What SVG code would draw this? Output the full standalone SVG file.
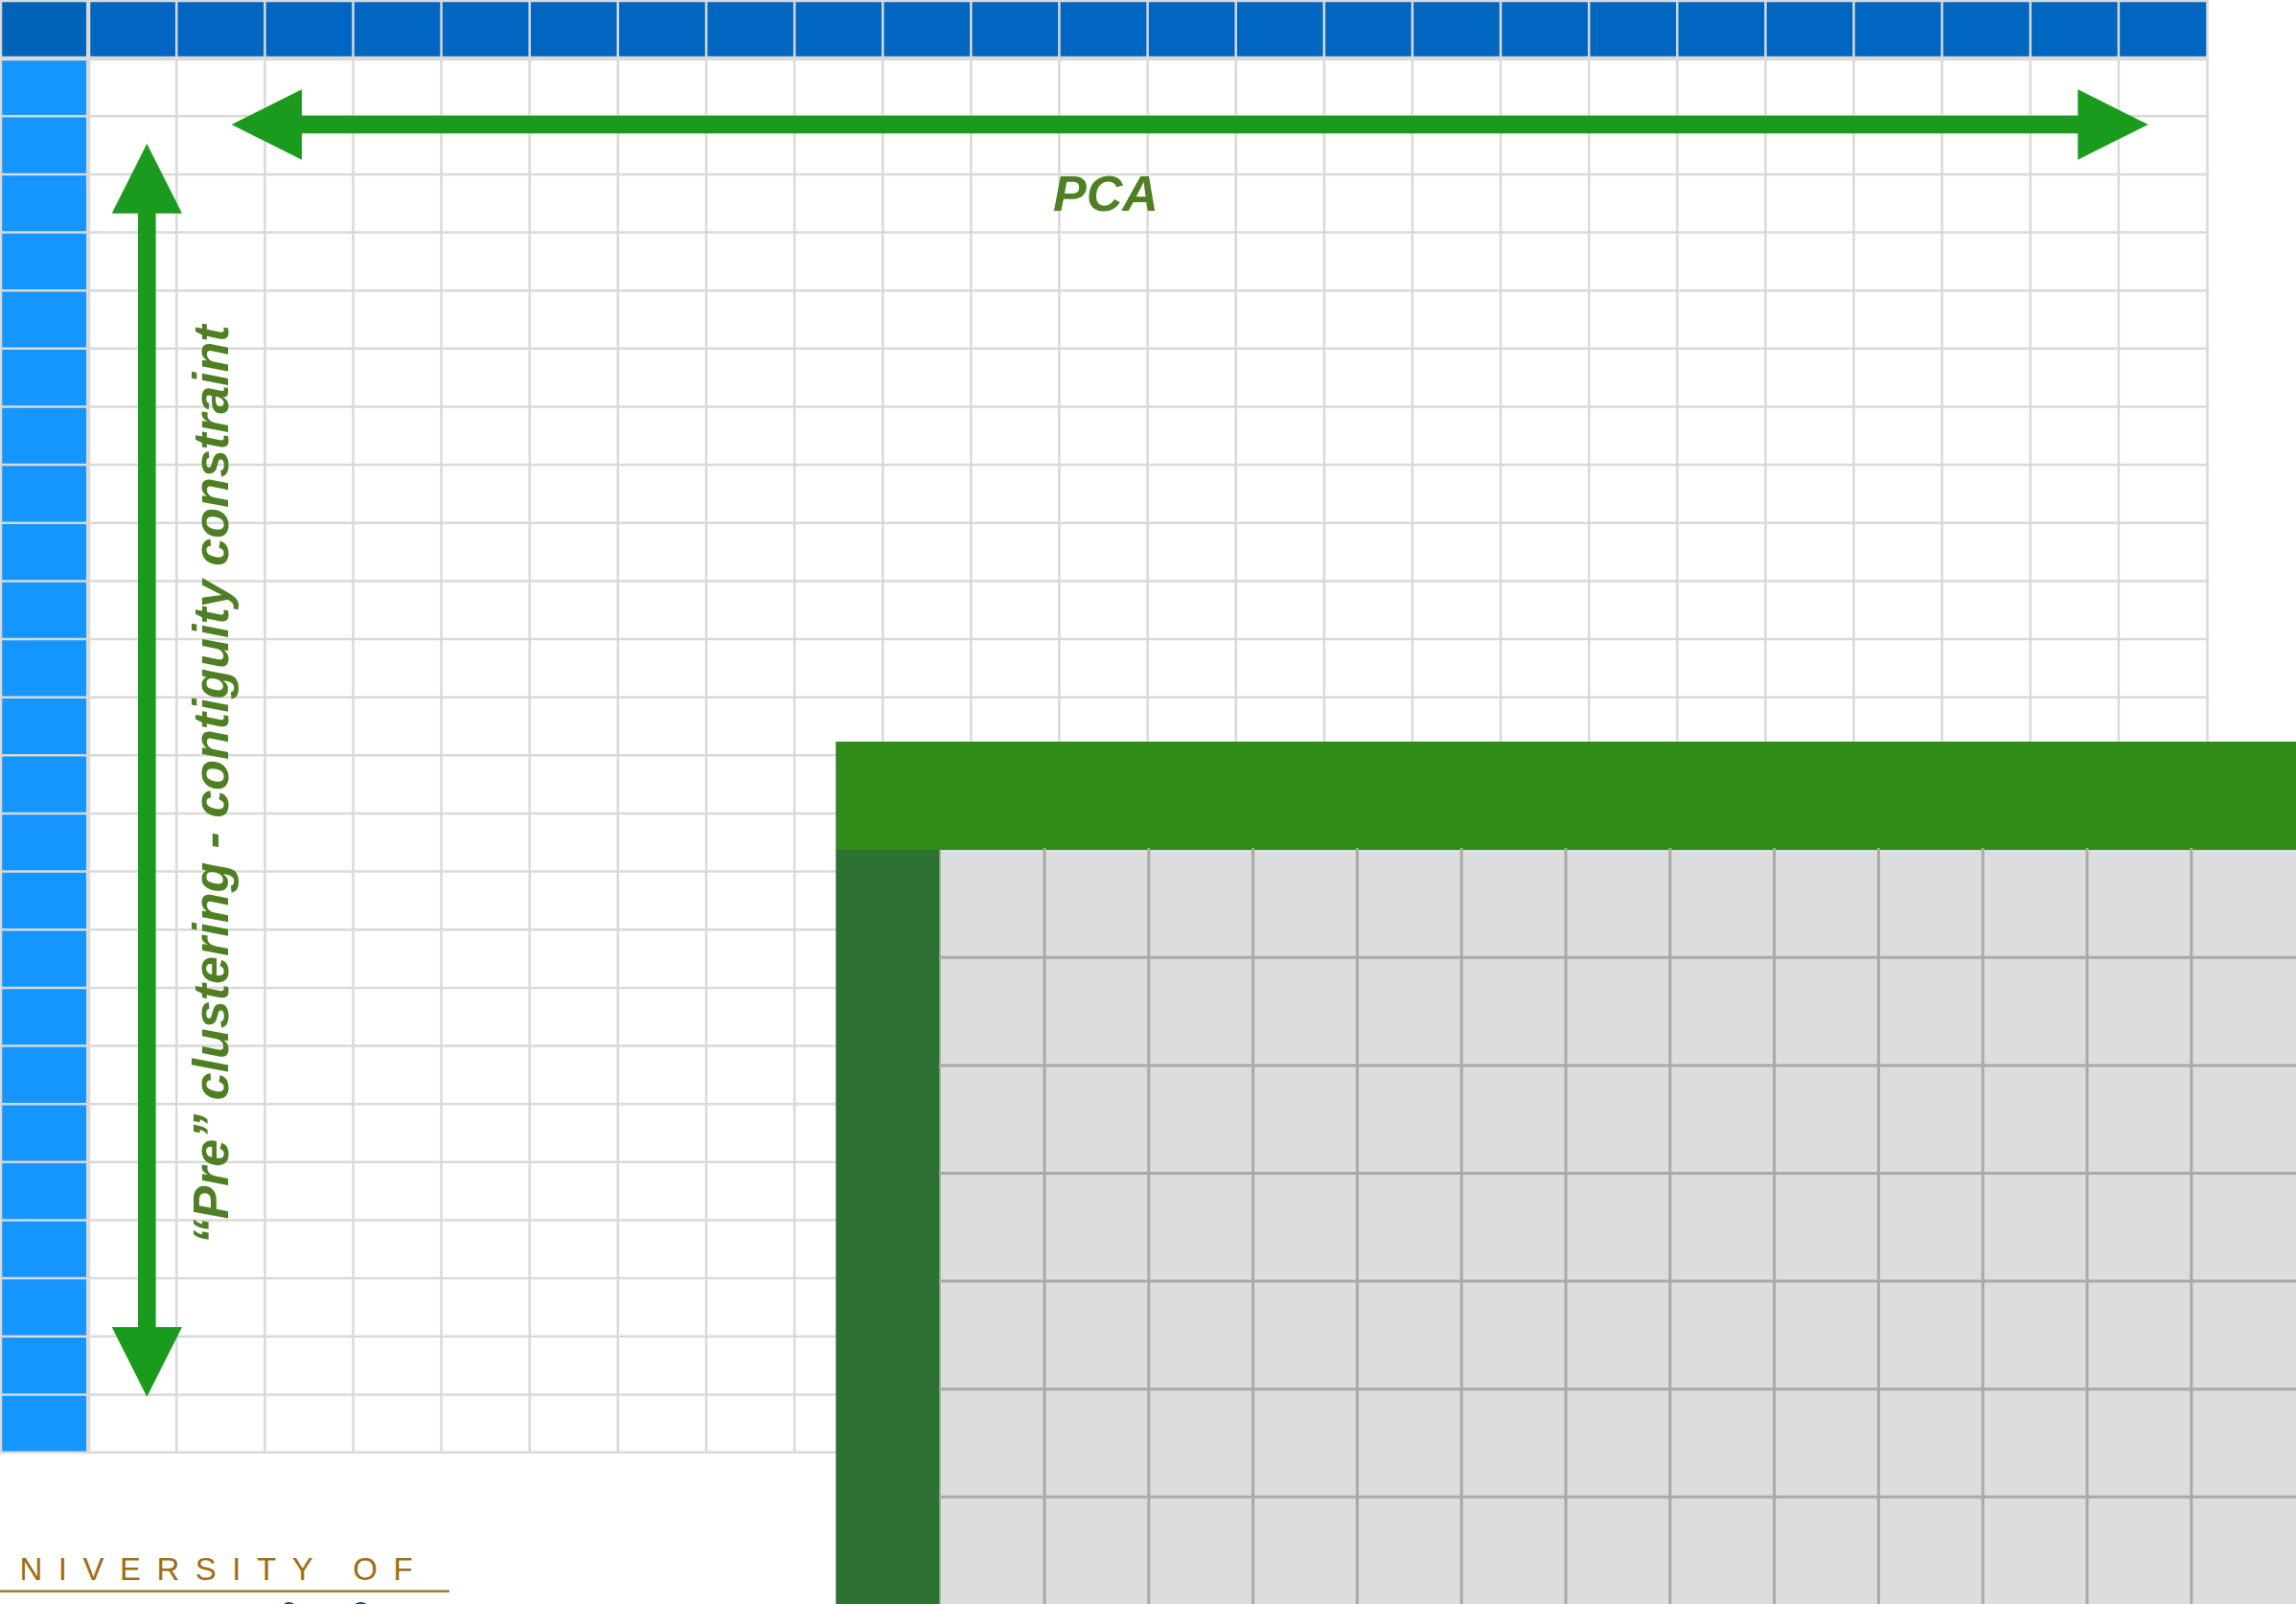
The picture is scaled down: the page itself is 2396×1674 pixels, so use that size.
<svg xmlns="http://www.w3.org/2000/svg" width="2396" height="1674" viewBox="0 0 2396 1674">
<style>
.gl{stroke:#d9d9d9;stroke-width:2.5;fill:none}
.glb{stroke:#d9d9d9;stroke-width:4.3;fill:none}
.pl{stroke:#a9a9aa;stroke-width:3;fill:none}
.arrow{fill:#1b9b1e}
.lbl{font-family:"Liberation Sans",Arial,sans-serif;font-weight:bold;font-style:italic;font-size:52px;fill:#4e7f22}
.logo{font-family:"Liberation Sans",Arial,sans-serif;font-size:33px;fill:#9d6d10;letter-spacing:16.5px}
</style>
<rect width="2396" height="1674" fill="#ffffff"/>
<g id="matrix">
<rect x="0" y="0" width="2303" height="61" fill="#0166c1"/>
<rect x="0" y="0" width="92" height="61" fill="#0062b8"/>
<rect x="0" y="61" width="92" height="1455" fill="#1596fe"/>
<g id="gridlines">
<line class="gl" x1="1" y1="0" x2="1" y2="1516"/>
<line class="glb" x1="92.1" y1="0" x2="92.1" y2="1516"/>
<line class="gl" x1="184.2" y1="0" x2="184.2" y2="1516"/>
<line class="gl" x1="276.4" y1="0" x2="276.4" y2="1516"/>
<line class="gl" x1="368.5" y1="0" x2="368.5" y2="1516"/>
<line class="gl" x1="460.6" y1="0" x2="460.6" y2="1516"/>
<line class="gl" x1="552.7" y1="0" x2="552.7" y2="1516"/>
<line class="gl" x1="644.8" y1="0" x2="644.8" y2="1516"/>
<line class="gl" x1="737" y1="0" x2="737" y2="1516"/>
<line class="gl" x1="829.1" y1="0" x2="829.1" y2="1516"/>
<line class="gl" x1="921.2" y1="0" x2="921.2" y2="1516"/>
<line class="gl" x1="1013.3" y1="0" x2="1013.3" y2="1516"/>
<line class="gl" x1="1105.4" y1="0" x2="1105.4" y2="1516"/>
<line class="gl" x1="1197.6" y1="0" x2="1197.6" y2="1516"/>
<line class="gl" x1="1289.7" y1="0" x2="1289.7" y2="1516"/>
<line class="gl" x1="1381.8" y1="0" x2="1381.8" y2="1516"/>
<line class="gl" x1="1473.9" y1="0" x2="1473.9" y2="1516"/>
<line class="gl" x1="1566" y1="0" x2="1566" y2="1516"/>
<line class="gl" x1="1658.2" y1="0" x2="1658.2" y2="1516"/>
<line class="gl" x1="1750.3" y1="0" x2="1750.3" y2="1516"/>
<line class="gl" x1="1842.4" y1="0" x2="1842.4" y2="1516"/>
<line class="gl" x1="1934.5" y1="0" x2="1934.5" y2="1516"/>
<line class="gl" x1="2026.6" y1="0" x2="2026.6" y2="1516"/>
<line class="gl" x1="2118.8" y1="0" x2="2118.8" y2="1516"/>
<line class="gl" x1="2210.9" y1="0" x2="2210.9" y2="1516"/>
<line class="gl" x1="2303.5" y1="0" x2="2303.5" y2="1517"/>
<line class="gl" x1="0" y1="1" x2="2305" y2="1"/>
<line class="glb" x1="0" y1="61" x2="2305" y2="61"/>
<line class="gl" x1="0" y1="121.3" x2="2305" y2="121.3"/>
<line class="gl" x1="0" y1="181.9" x2="2305" y2="181.9"/>
<line class="gl" x1="0" y1="242.6" x2="2305" y2="242.6"/>
<line class="gl" x1="0" y1="303.2" x2="2305" y2="303.2"/>
<line class="gl" x1="0" y1="363.8" x2="2305" y2="363.8"/>
<line class="gl" x1="0" y1="424.5" x2="2305" y2="424.5"/>
<line class="gl" x1="0" y1="485.1" x2="2305" y2="485.1"/>
<line class="gl" x1="0" y1="545.8" x2="2305" y2="545.8"/>
<line class="gl" x1="0" y1="606.4" x2="2305" y2="606.4"/>
<line class="gl" x1="0" y1="667" x2="2305" y2="667"/>
<line class="gl" x1="0" y1="727.7" x2="2305" y2="727.7"/>
<line class="gl" x1="0" y1="788.3" x2="2305" y2="788.3"/>
<line class="gl" x1="0" y1="849" x2="2305" y2="849"/>
<line class="gl" x1="0" y1="909.6" x2="2305" y2="909.6"/>
<line class="gl" x1="0" y1="970.2" x2="2305" y2="970.2"/>
<line class="gl" x1="0" y1="1030.9" x2="2305" y2="1030.9"/>
<line class="gl" x1="0" y1="1091.5" x2="2305" y2="1091.5"/>
<line class="gl" x1="0" y1="1152.2" x2="2305" y2="1152.2"/>
<line class="gl" x1="0" y1="1212.8" x2="2305" y2="1212.8"/>
<line class="gl" x1="0" y1="1273.4" x2="2305" y2="1273.4"/>
<line class="gl" x1="0" y1="1334.1" x2="2305" y2="1334.1"/>
<line class="gl" x1="0" y1="1394.7" x2="2305" y2="1394.7"/>
<line class="gl" x1="0" y1="1455.4" x2="2305" y2="1455.4"/>
<line class="gl" x1="0" y1="1515.8" x2="2305" y2="1515.8"/>
</g>
</g>
<g id="arrows">
<polygon id="arrow-pca" class="arrow" points="241.7,130 315,93.3 315,120.7 2168.3,120.7 2168.3,93.3 2241.7,130 2168.3,166.7 2168.3,139.3 315,139.3 315,166.7"/>
<polygon id="arrow-pre" class="arrow" points="153.3,150 190,222.7 162.6,222.7 162.6,1385 190,1385 153.3,1457.7 116.7,1385 144,1385 144,222.7 116.7,222.7"/>
</g>
<g id="labels">
<text id="label-pca" class="lbl" x="1154" y="220" text-anchor="middle">PCA</text>
<text id="label-pre" class="lbl" text-anchor="middle" transform="translate(238,819) rotate(-90)">&#8220;Pre&#8221; clustering - contiguity constraint</text>
</g>
<g id="panel">
<rect x="872" y="774" width="1524" height="113" fill="#318b18"/>
<rect x="872" y="887" width="109" height="787" fill="#2d7133"/>
<rect x="981" y="887" width="1415" height="787" fill="#dcdddf"/>
<line x1="872.5" y1="774" x2="872.5" y2="1674" stroke="#5f9160" stroke-width="1"/>
<line x1="981" y1="887" x2="981" y2="1674" stroke="#9fb79f" stroke-width="1.5"/>
<g id="panel-grid">
<line class="pl" x1="1090" y1="885" x2="1090" y2="1674"/>
<line class="pl" x1="1198.8" y1="885" x2="1198.8" y2="1674"/>
<line class="pl" x1="1307.6" y1="885" x2="1307.6" y2="1674"/>
<line class="pl" x1="1416.4" y1="885" x2="1416.4" y2="1674"/>
<line class="pl" x1="1525.2" y1="885" x2="1525.2" y2="1674"/>
<line class="pl" x1="1634" y1="885" x2="1634" y2="1674"/>
<line class="pl" x1="1742.8" y1="885" x2="1742.8" y2="1674"/>
<line class="pl" x1="1851.6" y1="885" x2="1851.6" y2="1674"/>
<line class="pl" x1="1960.4" y1="885" x2="1960.4" y2="1674"/>
<line class="pl" x1="2069.2" y1="885" x2="2069.2" y2="1674"/>
<line class="pl" x1="2178" y1="885" x2="2178" y2="1674"/>
<line class="pl" x1="2286.8" y1="885" x2="2286.8" y2="1674"/>
<line class="pl" x1="980" y1="999.3" x2="2396" y2="999.3"/>
<line class="pl" x1="980" y1="1111.9" x2="2396" y2="1111.9"/>
<line class="pl" x1="980" y1="1224.5" x2="2396" y2="1224.5"/>
<line class="pl" x1="980" y1="1337.1" x2="2396" y2="1337.1"/>
<line class="pl" x1="980" y1="1449.7" x2="2396" y2="1449.7"/>
<line class="pl" x1="980" y1="1562.3" x2="2396" y2="1562.3"/>
</g>
</g>
<g id="logo">
<text class="logo" x="20.5" y="1649">NIVERSITY OF</text>
<line x1="0" y1="1660.7" x2="469" y2="1660.7" stroke="#9d6d10" stroke-width="2.2"/>
<ellipse cx="301.5" cy="1680" rx="8" ry="8" fill="#1c3f7a"/>
<ellipse cx="376.5" cy="1680" rx="9" ry="8" fill="#1c3f7a"/>
</g>
</svg>
